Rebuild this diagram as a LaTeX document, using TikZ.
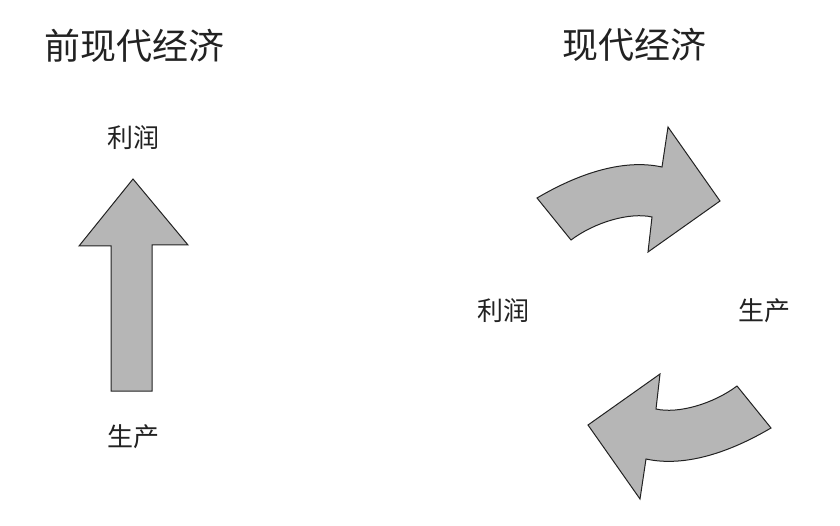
\documentclass[tikz,border=0pt]{standalone}
\usepackage{fontspec}
\newfontfamily\cjk{Noto Sans CJK SC}
\definecolor{arrowgray}{RGB}{182,182,182}
\definecolor{inkgray}{RGB}{34,34,34}

\begin{document}
\begin{tikzpicture}[x=1pt, y=-1pt,
  fatarrow/.style={fill=arrowgray, draw=inkgray, line width=1pt, line join=miter},
  heading/.style={text=inkgray, font=\cjk\fontsize{36}{42}\selectfont, inner sep=0pt},
  word/.style={text=inkgray, font=\cjk\fontsize{26}{30}\selectfont, inner sep=0pt}]

\useasboundingbox (0,0) rectangle (840,526);

% pre-modern economy
\node[heading] (pre) at (134,46) {前现代经济};
\node[word] (profitL) at (133,138) {利润};
\node[word] (prodL) at (133,437) {生产};
\draw[fatarrow] (111,391) -- (111,246) -- (79,246) -- (133,179)
  -- (188,245) -- (152,245) -- (152,391) -- cycle;

% modern economy
\coordinate (hub) at (654,313);
\node[heading] (mod) at (634,45) {现代经济};
\node[word] (profitR) at (503,311) {利润};
\node[word] (prodR) at (764,311) {生产};

\foreach \a in {0,180}
{
  \draw[fatarrow, rotate around={\a:(hub)}] (537,198)
    .. controls (588,168) and (630,160) .. (662,167)
    -- (668,127) -- (720,201) -- (648,252) -- (652,217)
    .. controls (630,212) and (595,222) .. (571,240) -- cycle;
}
\end{tikzpicture}
\end{document}
